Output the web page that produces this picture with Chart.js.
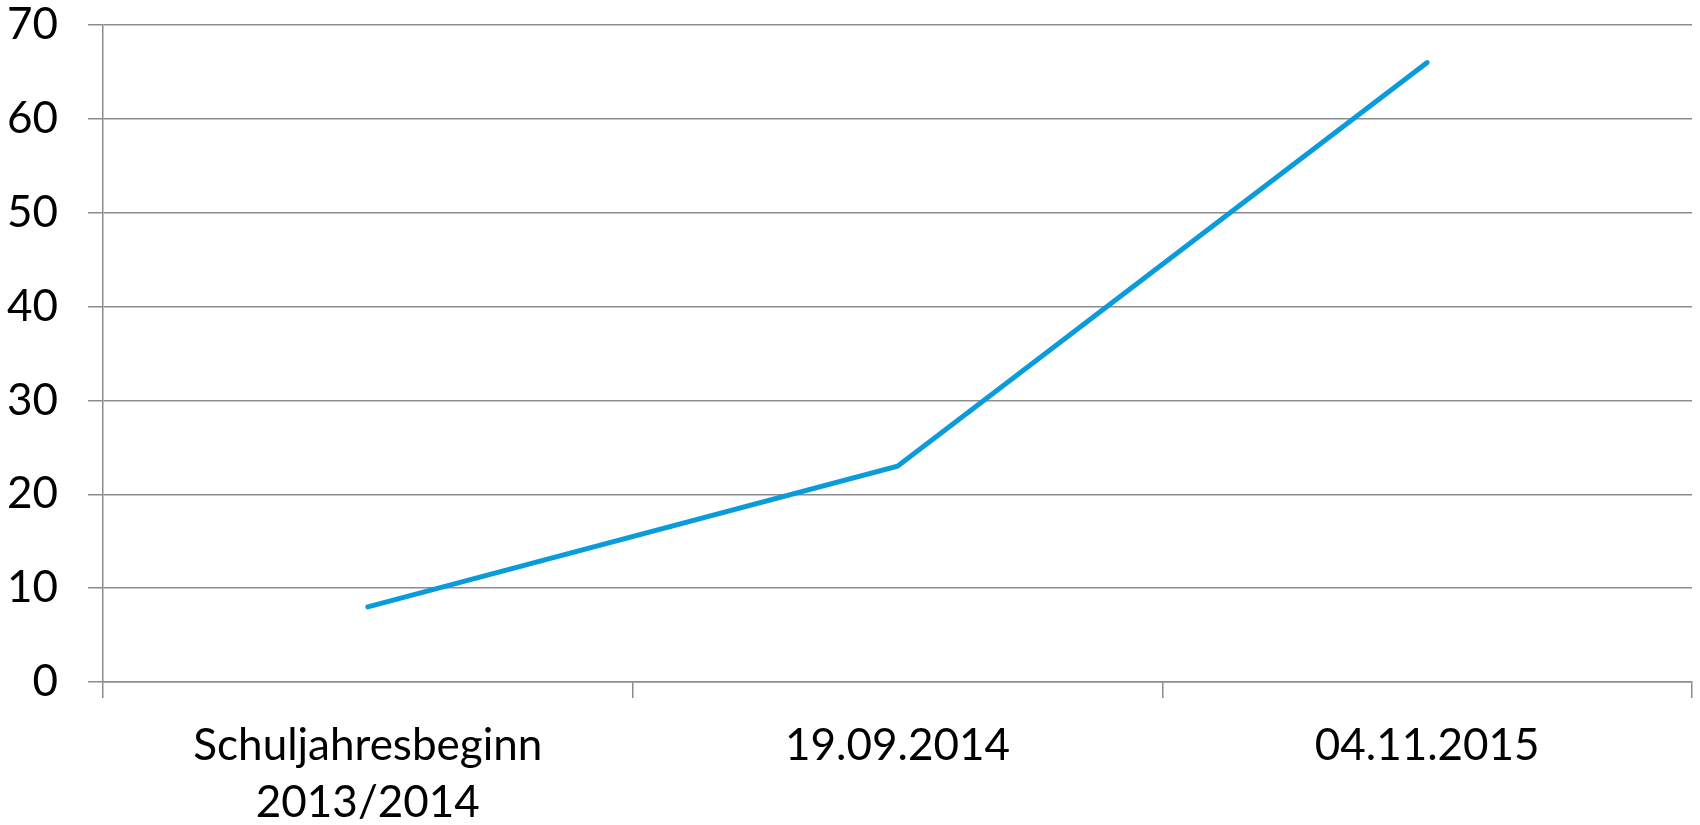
<!DOCTYPE html>
<html>
<head>
<meta charset="utf-8">
<script src="https://cdn.jsdelivr.net/npm/chart.js@4/dist/chart.umd.min.js"></script>
<style>
  html, body { margin: 0; padding: 0; background: #ffffff; }
  #wrap { width: 1700px; height: 825px; position: relative; }
</style>
</head>
<body>
<div id="wrap"><canvas id="c" width="1700" height="825"></canvas></div>
<script>
const categories = [["Schuljahresbeginn", "2013/2014"], "19.09.2014", "04.11.2015"];
const seriesValues = [8, 23, 66];
const yTicks = [0, 10, 20, 30, 40, 50, 60, 70];

const lineColor = '#0A9BDC';
const gridColor = '#8c8c8c';
const fontFamily = 'Lato, "Open Sans", sans-serif';

new Chart(document.getElementById('c'), {
  type: 'line',
  data: {
    labels: categories,
    datasets: [{
      data: seriesValues,
      borderColor: lineColor,
      borderWidth: 5,
      borderCapStyle: 'round',
      borderJoinStyle: 'miter',
      pointRadius: 0,
      pointHoverRadius: 0,
      tension: 0,
      fill: false
    }]
  },
  options: {
    responsive: false,
    animation: false,
    devicePixelRatio: 1,
    layout: { padding: { top: 0, right: 8, bottom: 0, left: 0 } },
    plugins: { legend: { display: false }, tooltip: { enabled: false } },
    scales: {
      x: {
        type: 'category',
        offset: true,
        grid: {
          offset: true,
          drawOnChartArea: false,
          drawTicks: true,
          tickLength: 16,
          color: gridColor,
          lineWidth: 1.5
        },
        border: { display: true, color: gridColor, width: 1.5 },
        ticks: {
          color: '#000000',
          font: { family: fontFamily, size: 44, lineHeight: 1.3 },
          padding: 19,
          maxRotation: 0,
          autoSkip: false
        },
        afterFit: (s) => { s.height = 143; s.paddingLeft = 0; s.paddingRight = 0; }
      },
      y: {
        min: 0,
        max: 70,
        afterBuildTicks: (s) => { s.ticks = yTicks.map(v => ({ value: v })); },
        grid: {
          color: gridColor,
          lineWidth: 1.5,
          drawTicks: true,
          tickLength: 15
        },
        border: { display: true, color: gridColor, width: 1.5 },
        ticks: {
          color: '#000000',
          font: { family: fontFamily, size: 44, lineHeight: 1.1 },
          padding: 30
        },
        afterFit: (s) => { s.width = 103; s.paddingTop = 25; s.paddingBottom = 0; }
      }
    }
  }
});
</script>
</body>
</html>
